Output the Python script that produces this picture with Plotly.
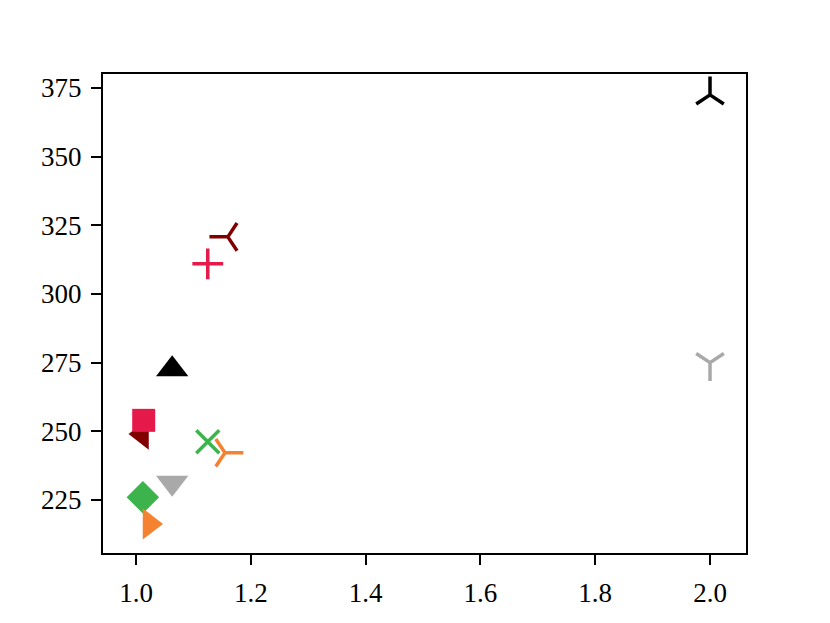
import plotly.graph_objects as go

# point values
x_vals = [2.0, 2.0, 1.16, 1.125, 1.063, 1.0105, 1.0134, 1.125, 1.155, 1.063, 1.012, 1.0235]
y_vals = [372.5, 275.0, 320.8, 311.0, 272.6, 249.0, 254.0, 246.2, 242.2, 231.3, 226.0, 216.3]

x_ticks = [1.0, 1.2, 1.4, 1.6, 1.8, 2.0]
y_ticks = [225, 250, 275, 300, 325, 350, 375]

# marker style per point
symbols = ['y-up', 'y-down', 'y-left', 'cross-thin', 'triangle-up', 'triangle-left',
           'square', 'x-thin', 'y-right', 'triangle-down', 'diamond', 'triangle-right']
colors = ['#000000', '#a9a9a9', '#800000', '#e6194b', '#000000', '#800000',
          '#e6194b', '#3cb44b', '#f58231', '#a9a9a9', '#3cb44b', '#f58231']
sizes = [23, 23, 23, 22, 28, 27, 23, 23, 23, 28, 25, 27]
open_syms = {'y-up', 'y-down', 'y-left', 'y-right', 'cross-thin', 'x-thin'}

fig = go.Figure()
for x, y, s, c, sz in zip(x_vals, y_vals, symbols, colors, sizes):
    lw = 3.5 if s in open_syms else 0
    fig.add_trace(go.Scatter(x=[x], y=[y], mode='markers',
                             marker=dict(symbol=s, size=sz, color=c,
                                         line=dict(color=c, width=lw)),
                             showlegend=False, hoverinfo='skip'))

axis_style = dict(showline=True, linecolor='black', linewidth=2.3, mirror=True,
                  ticks='outside', ticklen=10, tickwidth=2.3, tickcolor='black',
                  showgrid=False, zeroline=False, ticklabelstandoff=4,
                  tickfont=dict(family='Liberation Serif', size=27, color='black'))

fig.update_xaxes(range=[0.9425, 2.0627], tickvals=x_ticks,
                 ticktext=['%.1f' % t for t in x_ticks], **axis_style)
fig.update_yaxes(range=[205.7, 380.1], tickvals=y_ticks, **axis_style)

# page has an 8px body margin, so shift everything up/left by that
fig.update_layout(width=830, height=623, plot_bgcolor='white', paper_bgcolor='white',
                  margin=dict(l=95, r=92, t=66, b=78))

fig.write_html("out.html")
